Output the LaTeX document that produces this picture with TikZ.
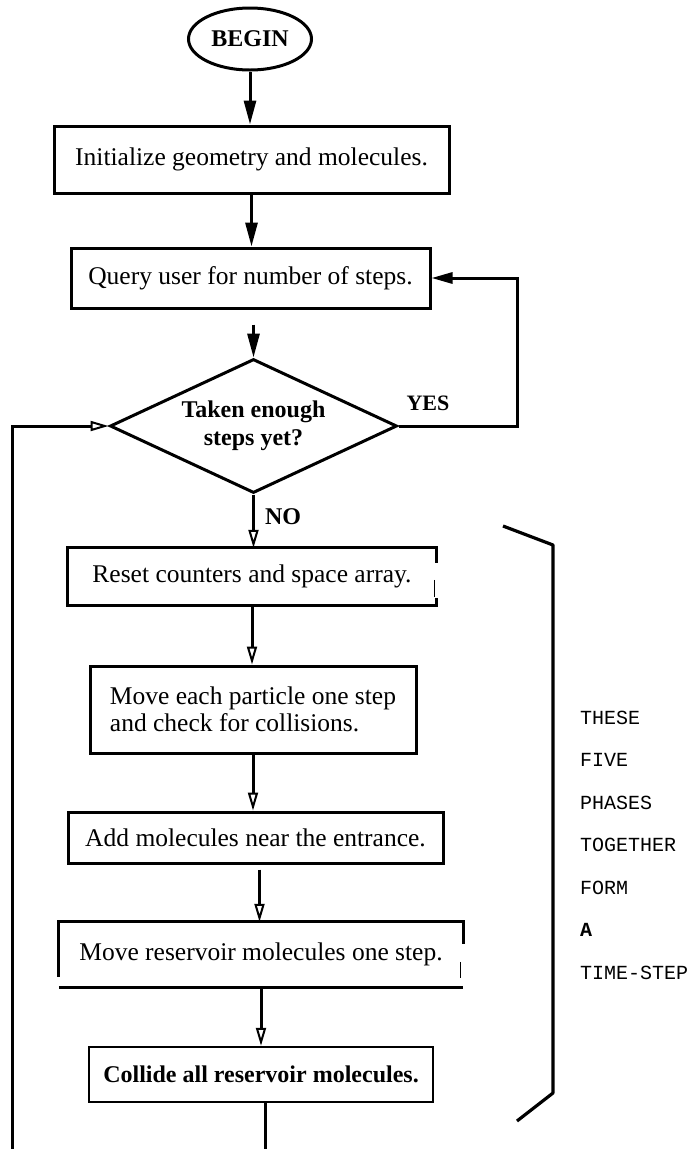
\documentclass[tikz,border=0pt]{standalone}
\usepackage{fontspec}
\setmainfont{Liberation Serif}
\setmonofont{Liberation Mono}
\usetikzlibrary{arrows.meta,shapes.geometric,calc}
\newcommand\bodyfnt{\fontsize{25.5}{27}\selectfont}
\newcommand\boldfnt{\fontsize{24}{28}\selectfont\bfseries}
\newcommand\sidefnt{\fontsize{20}{22}\selectfont\ttfamily}
\begin{document}
\begin{tikzpicture}[x=1pt,y=-1pt,
  box/.style={draw, line width=3pt, inner sep=0pt, font=\bodyfnt},
  openbox/.style={inner sep=0pt, font=\bodyfnt},
  conn/.style={line width=3pt},
  arrF/.style={conn, -{Triangle[length=24pt,width=12pt]}},
  arrY/.style={conn, -{Triangle[length=21pt,width=11pt]}},
  arrO/.style={conn, -{Triangle[open,length=18pt,width=10pt,line width=2pt]}},
  lbl/.style={font=\boldfnt, inner sep=0pt},
  side/.style={font=\sidefnt, anchor=west, inner sep=0pt}
]
\useasboundingbox (0,0) rectangle (692,1149);

% nodes
\node[draw, ellipse, line width=3pt, minimum width=123pt, minimum height=62pt, inner sep=0pt, font=\boldfnt] (begin) at (250,39) {BEGIN};
\node[box, minimum width=395pt, minimum height=67pt] (init) at (251.5,159.5) {Initialize geometry and molecules.};
\node[box, minimum width=359pt, minimum height=60pt] (query) at (250.5,278) {Query user for number of steps.};
\node[draw, diamond, line width=3pt, minimum width=287pt, minimum height=134pt, inner sep=0pt, shape aspect=2.14, align=center, font=\boldfnt] (d) at (253.5,426) {Taken enough\\steps yet?};
\node[openbox, minimum width=368pt, minimum height=57pt] (reset) at (252,576.5) {Reset counters and space array.};
\node[box, minimum width=326pt, minimum height=87pt, align=left] (move) at (253,709.5) {Move each particle one step\\and check for collisions.};
\node[box, minimum width=375pt, minimum height=51pt] (add) at (255.5,837.5) {Add molecules near the entrance.};
\node[openbox, minimum width=404pt, minimum height=65pt] (res) at (261,954.5) {Move reservoir molecules one step.};
\node[box, line width=2.4pt, minimum width=344pt, minimum height=55pt, font=\boldfnt] (coll) at (261,1074.5) {Collide all reservoir molecules.};

% broken outlines of two boxes
\draw[line width=3pt] ($(reset.north east)+(0,15)$) -- (reset.north east) -- (reset.north west) -- (reset.south west) -- (reset.south east) -- ++(0,-7);
\draw[line width=1.3pt] ($(reset.north east)+(-2,32)$) -- ++(0,17);
\draw[line width=3pt] ($(res.north east)+(0,22)$) -- (res.north east) -- (res.north west) -- ($(res.south west)+(0,-10)$);
\draw[line width=3pt] (res.south west) -- (res.south east);
\draw[line width=1.3pt] ($(res.north east)+(-3,40)$) -- ++(0,16);

% labels
\node[lbl, font=\fontsize{22}{24}\selectfont\bfseries] (yes) at (428,403) {YES};
\node[lbl] (no) at (283,517) {NO};

% connectors
\coordinate (addout) at ($(add.south)+(4,0)$);
\coordinate (collout) at ($(coll.south)+(4,0)$);
\draw[arrF] (begin) -- (begin |- init.north);
\draw[arrF] (init) -- (init |- query.north);
\draw[arrF, shorten <=15pt] (d.north |- query.south) -- (d.north);
\draw[arrO] (d.south) -- (d.south |- reset.north);
\draw[arrO] (reset) -- (reset |- move.north);
\draw[arrO] (move) -- (move |- add.north);
\draw[arrO, shorten <=5pt] (addout) -- (addout |- res.north);
\draw[arrO] (res) -- (res |- coll.north);
\coordinate (bend) at (517,426);
\draw[arrY] (d.east) -- (bend) |- (query.east);
\coordinate (loopbot) at (12,1149);
\draw[arrO] (loopbot) |- (d.west);
\coordinate (collbot) at (265,1149);
\draw[conn] (collout) -- (collbot);

% bracket
\coordinate (bt) at (503,526);
\coordinate (btc) at (553,545);
\coordinate (bbc) at (553,1093);
\coordinate (bb) at (517,1121);
\draw[line width=3.2pt, line join=round] (bt) -- (btc) -- (bbc) -- (bb);

% side text
\node[side] (t1) at (580,718) {THESE};
\node[side] (t2) at (580,760) {FIVE};
\node[side] (t3) at (580,803) {PHASES};
\node[side] (t4) at (580,845) {TOGETHER};
\node[side] (t5) at (580,888) {FORM};
\node[side, font=\sidefnt\bfseries] (t6) at (580,930) {A};
\node[side] (t7) at (580,973) {TIME-STEP};
\end{tikzpicture}
\end{document}
